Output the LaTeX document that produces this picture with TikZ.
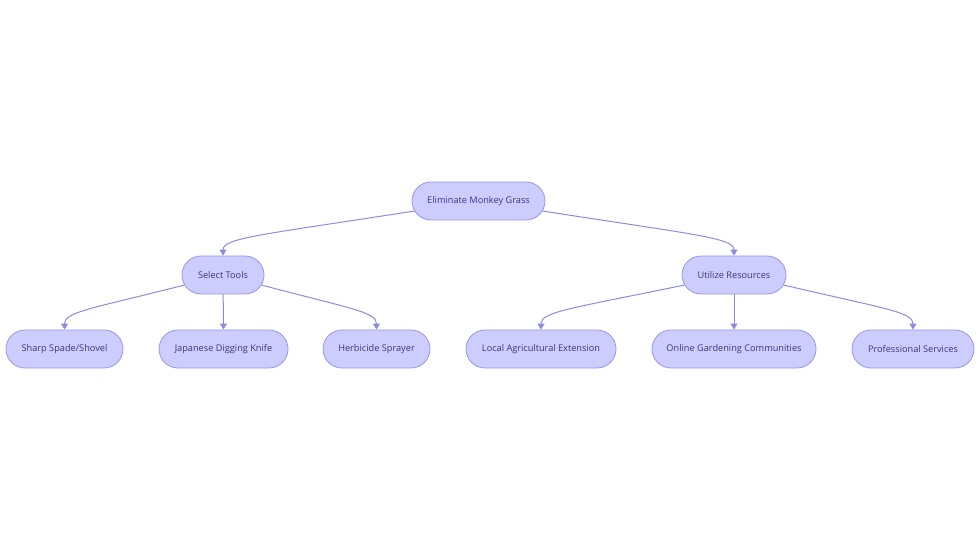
\documentclass[tikz,border=0pt]{standalone}
\usepackage{fontspec}
\setmainfont{Open Sans}
\usetikzlibrary{arrows.meta,shapes.misc,backgrounds}
\definecolor{nodefill}{RGB}{205,205,253}
\definecolor{nodedraw}{RGB}{150,150,232}
\definecolor{nodetext}{RGB}{55,55,130}
\definecolor{edgecol}{RGB}{140,140,222}
\tikzset{
  box/.style={rounded rectangle, draw=nodedraw, fill=nodefill, line width=0.8pt,
    text=nodetext, font=\fontsize{9.2}{11}\selectfont, minimum height=38pt, inner xsep=0pt},
  edge/.style={draw=edgecol, line width=1pt, -{Triangle[length=6pt,width=7pt]}}
}
\begin{document}
\begin{tikzpicture}[x=1pt,y=-1pt]
\useasboundingbox (0,0) rectangle (980,553);
\node[box, minimum width=133pt] (root) at (478.5,201) {Eliminate Monkey Grass};
\node[box, minimum width=82pt] (tools) at (223,275) {Select Tools};
\node[box, minimum width=104pt] (res) at (734,275) {Utilize Resources};
\node[box, minimum width=117pt] (spade) at (64.5,349) {Sharp Spade/Shovel};
\node[box, minimum width=129pt] (knife) at (223.5,349) {Japanese Digging Knife};
\node[box, minimum width=107pt] (spray) at (376.5,349) {Herbicide Sprayer};
\node[box, minimum width=150pt] (ext) at (541,349) {Local Agricultural Extension};
\node[box, minimum width=164pt] (online) at (734,349) {Online Gardening Communities};
\node[box, minimum width=122pt] (pro) at (913,349) {Professional Services};
\begin{scope}[on background layer]
\path[edge] (root.west) ++(3,10) .. controls (260,235) and (223,238) .. (tools.north);
\path[edge] (root.east) ++(-3,10) .. controls (697,235) and (734,238) .. (res.north);
\path[edge] (tools.west) ++(3,10) .. controls (90,309) and (64.5,312) .. (spade.north);
\path[edge] (tools.center) -- (knife.north);
\path[edge] (tools.east) ++(-3,10) .. controls (352,309) and (376.5,312) .. (spray.north);
\path[edge] (res.west) ++(3,10) .. controls (568,309) and (541,312) .. (ext.north);
\path[edge] (res.center) -- (online.north);
\path[edge] (res.east) ++(-3,10) .. controls (886,309) and (913,312) .. (pro.north);
\end{scope}
\end{tikzpicture}
\end{document}
